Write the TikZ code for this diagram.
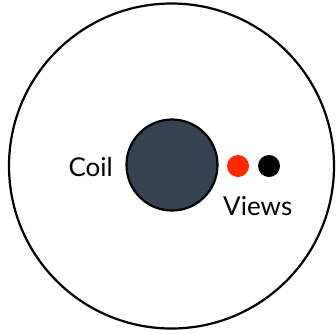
\documentclass[tikz,border=0pt]{standalone}
\usepackage{fontspec}
\setmainfont{Lato}
\definecolor{coilfill}{HTML}{344252}
\definecolor{viewred}{HTML}{FF2A00}
\tikzset{
  ring/.style={circle,draw=black,line width=2.2pt,inner sep=0pt},
  dot/.style={circle,inner sep=0pt,minimum size=22pt},
  lbl/.style={inner sep=0pt,font=\fontsize{26}{30}\selectfont}
}
\begin{document}
\begin{tikzpicture}[x=1pt,y=-1pt]
\useasboundingbox (0,0) rectangle (336,333);
\node[ring,minimum size=325pt] (outer) at (171.5,166) {};
\node[ring,fill=coilfill,minimum size=91pt] (coil) at (172,165) {};
\node[dot,fill=viewred] (red) at (238,166) {};
\node[dot,fill=black] (blk) at (269,166) {};
\node[lbl,anchor=base east] (coiltxt) at (113,176) {Coil};
\node[lbl,anchor=base west] (views) at (223,215) {Views};
\end{tikzpicture}
\end{document}
